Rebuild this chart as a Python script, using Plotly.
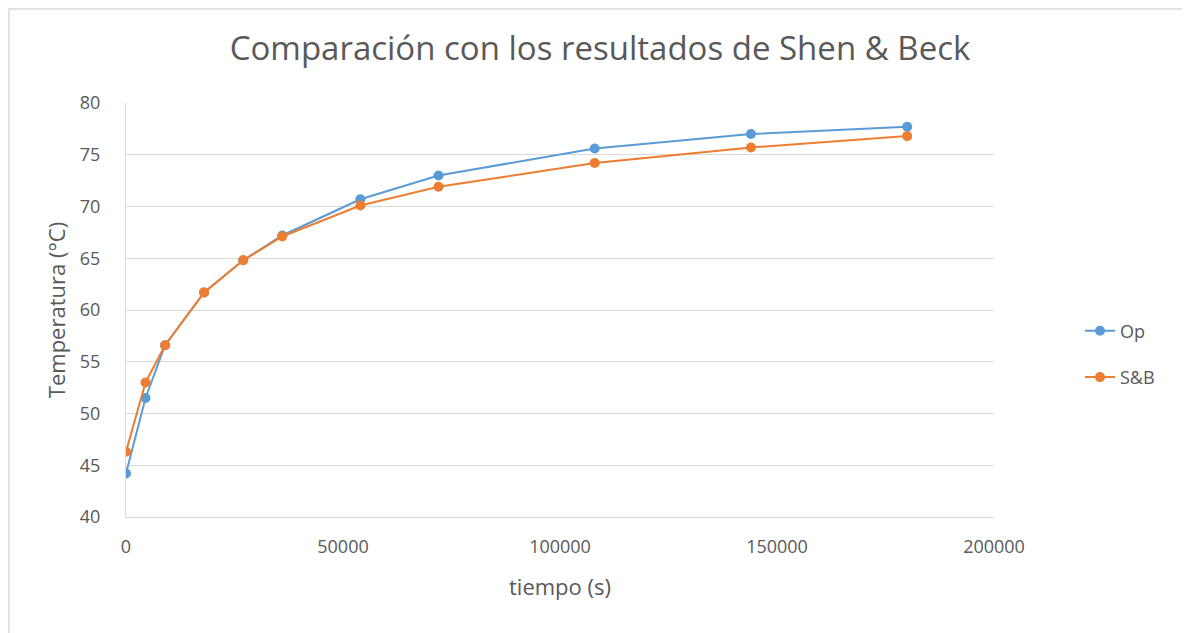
import plotly.graph_objects as go

tiempo = [0, 4500, 9000, 18000, 27000, 36000, 54000, 72000, 108000, 144000, 180000]
op = [44.2, 51.5, 56.6, 61.7, 64.8, 67.2, 70.7, 73.0, 75.6, 77.0, 77.7]
sb = [46.3, 53.0, 56.6, 61.7, 64.8, 67.1, 70.1, 71.9, 74.2, 75.7, 76.8]

FONT = "Open Sans"
GREY = "#595959"

fig = go.Figure()
fig.add_trace(go.Scatter(x=tiempo, y=op, name="Op", mode="lines+markers", legendgroup="a",
                         line=dict(color="#5B9BD5", width=2),
                         marker=dict(color="#5B9BD5", size=10)))
fig.add_trace(go.Scatter(x=tiempo, y=sb, name="S&B", mode="lines+markers", legendgroup="b",
                         line=dict(color="#ED7D31", width=2),
                         marker=dict(color="#ED7D31", size=10)))

OX, OY = 8, 8  # page offset of the figure
L, R, T, B = 126 - OX, 994 - OX, 103 - OY, 517 - OY
W, H = 1190, 633
pw, ph = R - L, B - T

def px(x):
    return (x - OX - L) / pw

def py(y):
    return (B - (y - OY)) / ph

fig.update_layout(
    width=W, height=H,
    margin=dict(l=L, r=W - R, t=T, b=H - B),
    paper_bgcolor="white", plot_bgcolor="white",
    font=dict(family=FONT, color=GREY, size=18),
    title=dict(text="Comparación con los resultados de Shen & Beck",
               xref="container", x=(600 - OX) / W, xanchor="center",
               yref="container", y=1 - (48 - OY) / H, yanchor="middle",
               font=dict(size=33, color=GREY, family=FONT)),
    xaxis=dict(range=[0, 200000], tickvals=[0, 50000, 100000, 150000, 200000],
               ticktext=["0", "50000", "100000", "150000", "200000"],
               showgrid=False, zeroline=False, showline=True,
               linecolor="#D9D9D9", linewidth=1, ticks="",
               tickfont=dict(size=18, color=GREY), ticklabelstandoff=13,
               title=dict(text="tiempo (s)", font=dict(size=22, color=GREY), standoff=23)),
    yaxis=dict(range=[40, 80], dtick=5, showgrid=True, gridcolor="#D9D9D9", gridwidth=1,
               zeroline=False, showline=True, linecolor="#D9D9D9", linewidth=1, ticks="",
               tickfont=dict(size=18, color=GREY), ticklabelstandoff=21,
               title=dict(text="Temperatura (°C)", font=dict(size=22, color=GREY), standoff=8)),
    legend=dict(x=px(1080), y=py(354), xanchor="left", yanchor="middle",
                font=dict(size=18, color=GREY), tracegroupgap=20, traceorder="grouped",
                bgcolor="rgba(0,0,0,0)"),
    shapes=[dict(type="rect", xref="paper", yref="paper",
                 x0=px(OX + 1), x1=px(1230), y0=py(700), y1=py(OY + 1),
                 line=dict(color="#D9D9D9", width=1.5), fillcolor="rgba(0,0,0,0)",
                 layer="below")],
)

fig.write_html("out.html")
